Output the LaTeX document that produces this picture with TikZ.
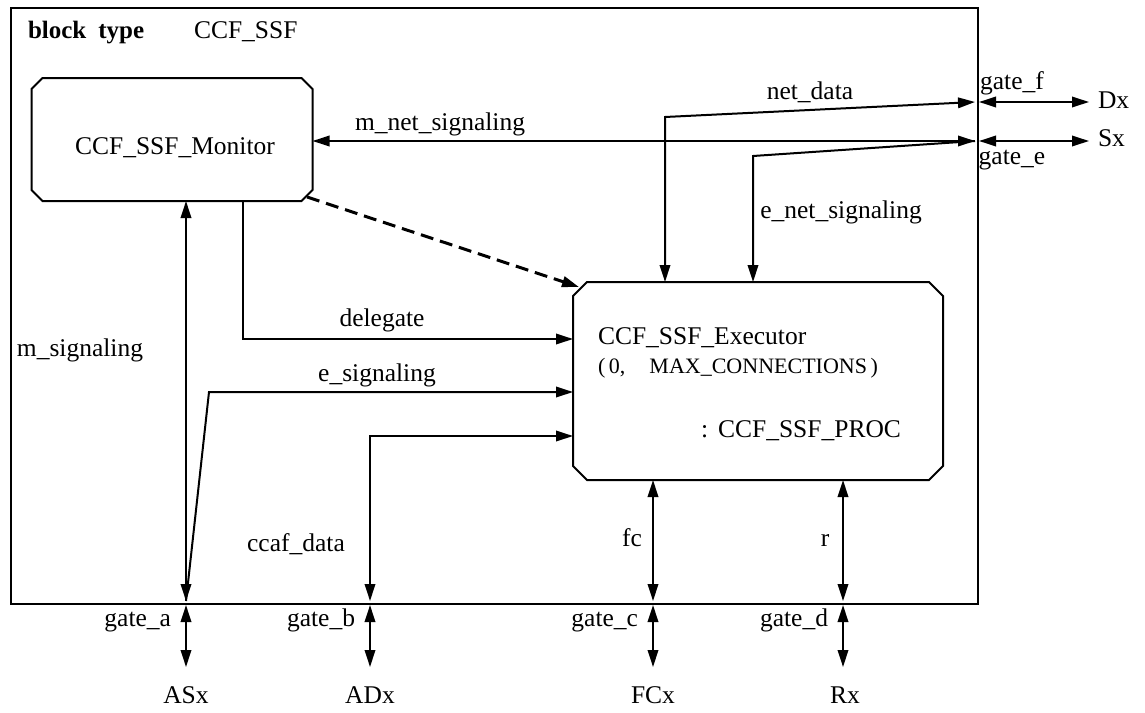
\documentclass[tikz,border=0pt]{standalone}
\usepackage{fontspec}
\setmainfont{Liberation Serif}
\usetikzlibrary{arrows.meta}

% chamfered outline around an (undrawn) rectangular node
\newcommand\chamferbox[2]{%
  \draw ([xshift=#2]#1.north west) -- ([xshift=-#2]#1.north east)
    -- ([yshift=-#2]#1.north east) -- ([yshift=#2]#1.south east)
    -- ([xshift=-#2]#1.south east) -- ([xshift=#2]#1.south west)
    -- ([yshift=#2]#1.south west) -- ([yshift=-#2]#1.north west) -- cycle;}

\begin{document}
\begin{tikzpicture}[x=1pt,y=-1pt,line width=2pt,
  >={Triangle[length=17pt,width=10.5pt]},
  lbl/.style={font=\fontsize{25.5}{28}\selectfont,inner sep=0pt,
    text height=17pt,text depth=5pt},
  small/.style={font=\fontsize{22}{26}\selectfont,inner sep=0pt,
    text height=15pt,text depth=5pt},
  box/.style={rectangle,inner sep=0pt},
  flow/.style={->},
  both/.style={<->},
  spawn/.style={->,dashed,line width=3pt,dash pattern=on 13pt off 7pt}]

\useasboundingbox (0,0) rectangle (1145,712);

% enclosing block
\node[draw,line width=2pt,box,anchor=north west,minimum width=967pt,
  minimum height=596pt] (blk) at (10,7) {};
\node[lbl,anchor=west,font=\fontsize{25}{28}\selectfont\bfseries] (bt) at (27,32) {block\hspace{12pt}type};
\node[lbl,anchor=west] (bn) at (193,32) {CCF\_SSF};

% processes
\node[box,minimum width=279pt,minimum height=121pt] (mon) at (172,139.5) {};
\chamferbox{mon}{11pt}
\node[lbl] (monT) at (175,148) {CCF\_SSF\_Monitor};

\node[box,minimum width=368pt,minimum height=196pt] (exe) at (758,381) {};
\chamferbox{exe}{14pt}
\node[lbl,anchor=west] (exeT) at (597,338) {CCF\_SSF\_Executor};
\node[small,anchor=west] (exeN) at (597,368) {(\,0,\hspace{24pt}MAX\_CONNECTIONS\,)};
\node[lbl,anchor=west] (exeP) at (700,431) {:\hspace{10pt}CCF\_SSF\_PROC};

% gates on the block border
\coordinate (gF) at (975,102);
\coordinate (gE) at (975,141);
\coordinate (gA) at (186,601);
\coordinate (gB) at (370,601);
\coordinate (gC) at (653,601);
\coordinate (gD) at (843,601);

% internal channels
\draw[both] (mon.east |- gE) -- (gE);
\draw[both] (exe.north -| 665,0) -- (665,117) -- (gF);
\draw[<-] (exe.north -| 753,0) -- (753,156) -- (gE);
\draw[both] (mon.south -| gA) -- (gA);
\draw[flow] (gA) -- (209,392) -- (exe.west |- 0,392);
\draw[flow] (mon.south -| 243,0) -- (243,339) -- (exe.west |- 0,339);
\draw[both] (gB) -- (370,436) -- (exe.west |- 0,436);
\draw[both] (exe.south -| gC) -- (gC);
\draw[both] (exe.south -| gD) -- (gD);
\draw[spawn] (307,197) -- (579,287);

\node[lbl] (lmn) at (440,124) {m\_net\_signaling};
\node[lbl] (lnd) at (810,93) {net\_data};
\node[lbl] (len) at (841,212) {e\_net\_signaling};
\node[lbl] (lms) at (80,350) {m\_signaling};
\node[lbl] (ldl) at (382,320) {delegate};
\node[lbl] (les) at (377,375) {e\_signaling};
\node[lbl] (lcd) at (296,545) {ccaf\_data};
\node[lbl] (lfc) at (632,540) {fc};
\node[lbl] (lr) at (825,540) {r};

% environment signal routes
\node[lbl,anchor=west] (Dx) at (1097,102) {Dx};
\node[lbl,anchor=west] (Sx) at (1097,140) {Sx};
\node[lbl] (lgf) at (1012,83) {gate\_f};
\node[lbl] (lge) at (1012,158) {gate\_e};
\draw[both] ([xshift=4pt]gF) -- ([xshift=-8pt]Dx.west);
\draw[both] ([xshift=4pt]gE) -- ([xshift=-8pt]Sx.west |- gE);

\node[lbl] (ASx) at (186,697) {ASx};
\node[lbl] (ADx) at (370,697) {ADx};
\node[lbl] (FCx) at (653,697) {FCx};
\node[lbl] (Rx) at (845,697) {Rx};
\draw[both] ([yshift=-4pt]gA) -- (gA |- 0,667);
\draw[both] ([yshift=-4pt]gB) -- (gB |- 0,667);
\draw[both] ([yshift=-4pt]gC) -- (gC |- 0,667);
\draw[both] ([yshift=-4pt]gD) -- (gD |- 0,667);

\node[lbl,anchor=east] (lga) at (172,620) {gate\_a};
\node[lbl,anchor=east] (lgb) at (356,620) {gate\_b};
\node[lbl,anchor=east] (lgc) at (639,620) {gate\_c};
\node[lbl,anchor=east] (lgd) at (829,620) {gate\_d};
\end{tikzpicture}
\end{document}
